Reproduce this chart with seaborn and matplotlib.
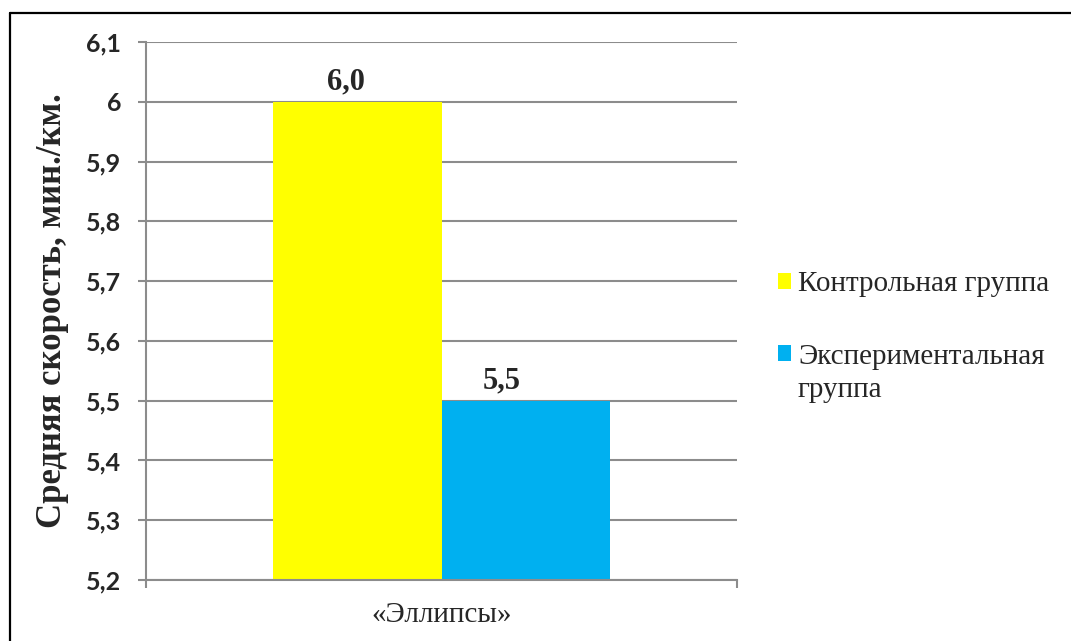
import matplotlib
matplotlib.use("Agg")
import matplotlib.pyplot as plt
from matplotlib.lines import Line2D
from matplotlib.ticker import FixedLocator
import seaborn as sns
import pandas as pd

# Data
categories = ["«Эллипсы»"]
groups = ["Контрольная группа", "Экспериментальная\nгруппа"]
values = [6.0, 5.5]
colors = ["#FFFF00", "#00B0F0"]
y_ticks = [5.2, 5.3, 5.4, 5.5, 5.6, 5.7, 5.8, 5.9, 6.0, 6.1]
y_tick_labels = ["5,2", "5,3", "5,4", "5,5", "5,6", "5,7", "5,8", "5,9", "6", "6,1"]
y_label = "Средняя скорость, мин./км."

df = pd.DataFrame({
    "category": categories * len(groups),
    "group": groups,
    "value": values,
})

sns.set_theme(style="white")
plt.rcParams["font.family"] = ["Liberation Serif", "DejaVu Serif"]

fig = plt.figure(figsize=(10.71, 6.41), dpi=100)
ax = fig.add_axes([146 / 1071, 1 - 580 / 641, (737 - 146) / 1071, (580 - 42) / 641])

sns.barplot(data=df, x="category", y="value", hue="group", palette=colors,
            width=0.57, saturation=1, ax=ax, legend=True, errorbar=None,
            linewidth=0)

ax.set_ylim(5.2, 6.1)
ax.set_xlim(-0.5, 0.5)
ax.set_yticks(y_ticks)
ax.set_yticklabels(y_tick_labels, fontfamily="Lato", fontweight="bold", fontsize=18)
ax.tick_params(axis="y", length=6, width=1.5, color="#8C8C8C", pad=12, left=True)

# Category boundaries as tick marks on the x axis
ax.xaxis.set_minor_locator(FixedLocator([-0.5, 0.5]))
ax.tick_params(axis="x", which="minor", length=6, width=1.5, color="#8C8C8C", bottom=True)
ax.tick_params(axis="x", which="major", length=0, labelsize=21, pad=16)

ax.grid(axis="y", color="#8C8C8C", linewidth=1.5)
ax.set_axisbelow(True)
for side in ["top", "right"]:
    ax.spines[side].set_visible(False)
for side in ["left", "bottom"]:
    ax.spines[side].set_color("#8C8C8C")
    ax.spines[side].set_linewidth(1.5)

ax.set_xlabel("")
ax.set_ylabel(y_label, fontsize=25, fontweight="bold", labelpad=12)

# Value labels, nudged slightly left of the bar centres
label_shift = [-8, -17]
for cont, dx in zip(ax.containers, label_shift):
    texts = ax.bar_label(cont, labels=[f"{v:.1f}".replace(".", ",") for v in cont.datavalues],
                         fontsize=22, fontweight="bold", padding=4)
    for t in texts:
        ox, oy = t.xyann
        t.xyann = (ox + dx, oy)

handles, labels = ax.get_legend_handles_labels()
leg = ax.legend(handles, labels, loc="center left",
                bbox_to_anchor=(763 / 1071, 1 - 337 / 641),
                bbox_transform=fig.transFigure, frameon=False, fontsize=21,
                handlelength=0.45, handleheight=0.45, handletextpad=0.25,
                labelspacing=1.6, borderpad=0)
for t in leg.get_texts():
    t.set_linespacing(1.35)

# Align the marker of the two-line entry with its first line
line_step = 21 * 1.35
h2 = leg.legend_handles[1]
h2.set_y(h2.get_y() + line_step / 2)

# Outer frame of the chart (top and left edges)
fig.add_artist(Line2D([9.5 / 1071, 9.5 / 1071], [0, 1 - 12.5 / 641], color="black",
                      linewidth=1.6, transform=fig.transFigure))
fig.add_artist(Line2D([9.5 / 1071, 1], [1 - 12.5 / 641, 1 - 12.5 / 641], color="black",
                      linewidth=1.6, transform=fig.transFigure))

fig.savefig("out.png", dpi=100)
